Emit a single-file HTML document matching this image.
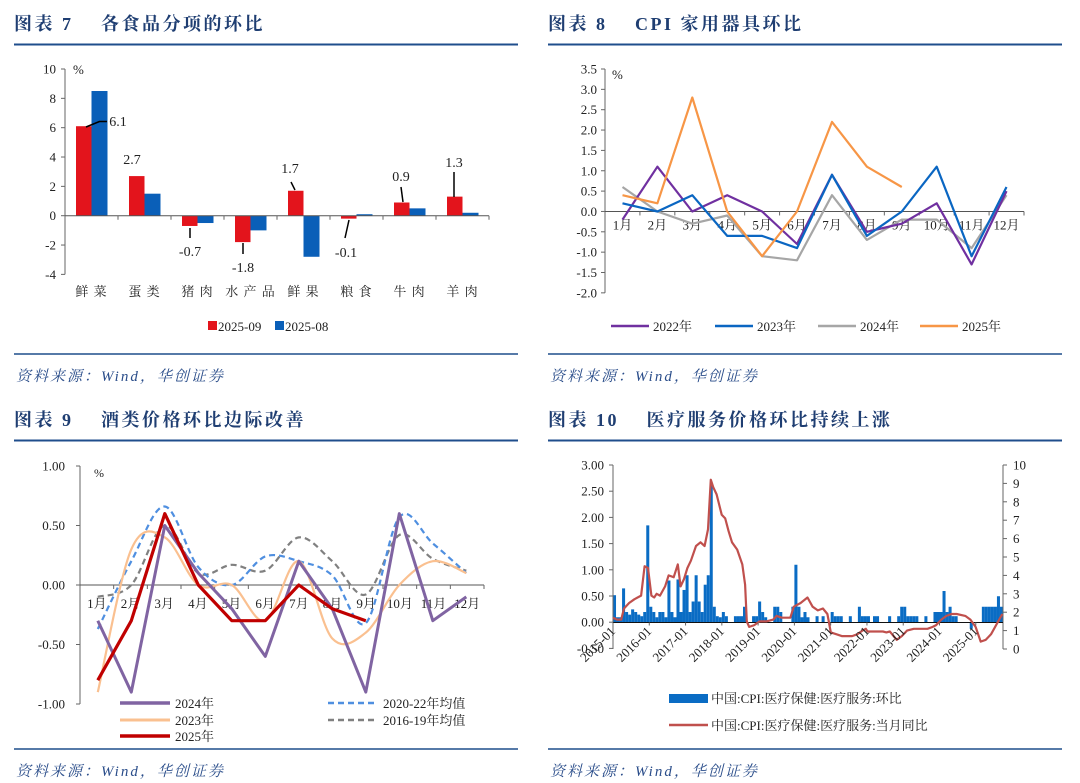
<!DOCTYPE html>
<html><head><meta charset="utf-8">
<style>
html,body{margin:0;padding:0;background:#fff;}
svg{display:block;}
text{font-family:"Liberation Serif","Noto Serif CJK SC",serif;}
.t{font-family:"Liberation Serif","Noto Serif CJK SC",serif;font-weight:bold;font-size:18px;fill:#1f3e72;letter-spacing:2.5px;}
.src{font-family:"Liberation Serif","Noto Serif CJK SC",serif;font-style:italic;font-size:15px;fill:#2a4d8a;letter-spacing:2px;}
.ax{font-size:13px;fill:#222;}
</style></head>
<body>
<svg id="s" width="1080" height="783" viewBox="0 0 1080 783" xmlns="http://www.w3.org/2000/svg">
<text class="t" x="14" y="30">图表 7　 各食品分项的环比</text>
<text class="t" x="548" y="30">图表 8　 CPI 家用器具环比</text>
<text class="t" x="14" y="426">图表 9　 酒类价格环比边际改善</text>
<text class="t" x="548" y="426">图表 10　 医疗服务价格环比持续上涨</text>
<line x1="14" y1="44.5" x2="518" y2="44.5" stroke="#1f4e8c" stroke-width="2"/>
<line x1="548" y1="44.5" x2="1062" y2="44.5" stroke="#1f4e8c" stroke-width="2"/>
<line x1="14" y1="440.5" x2="518" y2="440.5" stroke="#1f4e8c" stroke-width="2"/>
<line x1="548" y1="440.5" x2="1062" y2="440.5" stroke="#1f4e8c" stroke-width="2"/>
<line x1="14" y1="354" x2="518" y2="354" stroke="#1f4e8c" stroke-width="1.5"/>
<line x1="548" y1="354" x2="1062" y2="354" stroke="#1f4e8c" stroke-width="1.5"/>
<line x1="14" y1="749" x2="518" y2="749" stroke="#1f4e8c" stroke-width="1.5"/>
<line x1="548" y1="749" x2="1062" y2="749" stroke="#1f4e8c" stroke-width="1.5"/>
<text class="src" x="16" y="381">资料来源：Wind，华创证券</text>
<text class="src" x="550" y="381">资料来源：Wind，华创证券</text>
<text class="src" x="16" y="776">资料来源：Wind，华创证券</text>
<text class="src" x="550" y="776">资料来源：Wind，华创证券</text>
<g id="g"></g>
</svg>
<script>
var out=[];
function L(x1,y1,x2,y2,c,w,extra){out.push('<line x1="'+x1+'" y1="'+y1+'" x2="'+x2+'" y2="'+y2+'" stroke="'+c+'" stroke-width="'+(w||1)+'" '+(extra||'')+'/>');}
function T(x,y,s,anc,size,extra){out.push('<text x="'+x+'" y="'+y+'" text-anchor="'+(anc||'start')+'" font-size="'+(size||13)+'" fill="#222" '+(extra||'')+'>'+s+'</text>');}
function R(x,y,w,h,c){if(h<0){y+=h;h=-h;}out.push('<rect x="'+x.toFixed(2)+'" y="'+y.toFixed(2)+'" width="'+w.toFixed(2)+'" height="'+h.toFixed(2)+'" fill="'+c+'"/>');}
function P(pts,c,w,extra){out.push('<polyline points="'+pts.map(function(p){return p[0].toFixed(1)+','+p[1].toFixed(1)}).join(' ')+'" fill="none" stroke="'+c+'" stroke-width="'+w+'" stroke-linejoin="round" '+(extra||'')+'/>');}
function S(pts,c,w,extra){var d='M'+pts[0][0]+','+pts[0][1];for(var i=0;i<pts.length-1;i++){var p0=pts[i-1]||pts[i],p1=pts[i],p2=pts[i+1],p3=pts[i+2]||p2;var c1=[p1[0]+(p2[0]-p0[0])/6,p1[1]+(p2[1]-p0[1])/6],c2=[p2[0]-(p3[0]-p1[0])/6,p2[1]-(p3[1]-p1[1])/6];d+=' C'+c1[0].toFixed(1)+','+c1[1].toFixed(1)+' '+c2[0].toFixed(1)+','+c2[1].toFixed(1)+' '+p2[0].toFixed(1)+','+p2[1].toFixed(1);}out.push('<path d="'+d+'" fill="none" stroke="'+c+'" stroke-width="'+w+'" '+(extra||'')+'/>');}
var AX='#666';
// ---------- Chart 7
(function(){
var x0=65,x1=489,ytop=69,ppu=14.67,y0=ytop+10*ppu;
function Y(v){return y0-v*ppu;}
L(x0,Y(10),x0,Y(-4),AX);
for(var v=10;v>=-4;v-=2){L(x0-4,Y(v),x0,Y(v),AX);T(x0-9,Y(v)+4.5,v,'end',13);}
T(73,74,'%','start',13);
var cats=['鲜菜','蛋类','猪肉','水产品','鲜果','粮食','牛肉','羊肉'];
var red=[6.1,2.7,-0.7,-1.8,1.7,-0.2,0.9,1.3],blue=[8.5,1.5,-0.5,-1.0,-2.8,0.1,0.5,0.2];
var cw=(x1-x0)/8;
for(var i=0;i<8;i++){var c=x0+cw*(i+0.5);
R(c-15.5,y0,15.5,-red[i]*ppu,'#e3141c');R(c,y0,16,-blue[i]*ppu,'#0a5fb8');
T(c,296,cats[i].split('').join(' '),'middle',13,'letter-spacing="1"');}
L(x0,y0,x1,y0,'#555');
for(var i=1;i<=8;i++)L(x0+cw*i,y0,x0+cw*i,y0+4,AX);
var labs=[[118,126,'6.1'],[132,164,'2.7'],[190,256,'-0.7'],[243,272,'-1.8'],[290,173,'1.7'],[346,257,'-0.1'],[401,181,'0.9'],[454,167,'1.3']];
labs.forEach(function(l){T(l[0],l[1],l[2],'middle',14);});
P([[86,127],[99.5,121.5],[107,121.5]],'#000',1.5);
L(190,228,190,238,'#000',1.5);L(243,243,243,254,'#000',1.5);
L(291,182,295,190,'#000',1.5);L(349,220,345,238,'#000',1.5);
L(401,187,403,202,'#000',1.5);L(454,172,454,197,'#000',1.5);
R(208,321,9,9,'#e3141c');T(218,331,'2025-09','start',13);
R(275,321,9,9,'#0a5fb8');T(285,331,'2025-08','start',13);
})();
// ---------- Chart 8
(function(){
var x0=605,x1=1024,ytop=69,ppu=40.7,y0=ytop+3.5*ppu;
function Y(v){return y0-v*ppu;}
L(x0,Y(3.5),x0,Y(-2),AX);
for(var k=0;k<=11;k++){var v=3.5-k*0.5;L(x0-4,Y(v),x0,Y(v),AX);T(x0-8,Y(v)+4.5,v.toFixed(1),'end',13);}
T(612,79,'%','start',13);
L(x0,y0,x1,y0,'#555');
var cw=(x1-x0)/12;
for(var i=1;i<=12;i++)L(x0+cw*i,y0,x0+cw*i,y0+4,AX);
for(var i=0;i<12;i++)T(x0+cw*(i+0.5),y0+18,(i+1)+'月','middle',13);
function X(i){return x0+cw*(i+0.5);}
function ser(a,c){P(a.map(function(v,i){return [X(i),Y(v)]}),c,2.2);}
ser([0.6,0,-0.3,-0.1,-1.1,-1.2,0.4,-0.7,-0.2,-0.2,-0.9,0.4],'#a6a6a6');
ser([-0.2,1.1,0,0.4,0,-0.8,0.9,-0.5,-0.3,0.2,-1.3,0.5],'#7030a0');
ser([0.2,0,0.4,-0.6,-0.6,-0.9,0.9,-0.6,0,1.1,-1.1,0.6],'#0a66c2');
ser([0.4,0.2,2.8,0,-1.1,0,2.2,1.1,0.6],'#f79646');
var lg=[[611,'2022年','#7030a0'],[715,'2023年','#0a66c2'],[818,'2024年','#a6a6a6'],[920,'2025年','#f79646']];
lg.forEach(function(l){L(l[0],326,l[0]+38,326,l[2],2.5);T(l[0]+42,331,l[1],'start',13);});
})();
// ---------- Chart 9
(function(){
var x0=80,x1=484,ytop=466,ppu=119,y0=ytop+ppu;
function Y(v){return y0-v*ppu;}
L(x0,Y(1),x0,Y(-1),AX);
[1,0.5,0,-0.5,-1].forEach(function(v){L(x0-4,Y(v),x0,Y(v),AX);T(x0-15,Y(v)+4.5,v.toFixed(2),'end',13);});
T(94,477,'%','start',12);
L(x0,y0,x1,y0,'#555');
var cw=(x1-x0)/12;
for(var i=1;i<=12;i++)L(x0+cw*i,y0,x0+cw*i,y0+4,AX);
for(var i=0;i<12;i++)T(x0+cw*(i+0.5),y0+23,(i+1)+'月','middle',13);
function X(i){return 97.8+33.5*i;}
function pts(a){return a.map(function(v,i){return [X(i),Y(v)]});}
S(pts([-0.1,0,0.5,0.1,0.17,0.12,0.4,0.2,-0.08,0.42,0.22,0.12]),'#808080',2.2,'stroke-dasharray="6,4"');
S(pts([-0.37,0.2,0.66,0.15,0,0.24,0.2,0.08,-0.32,0.57,0.35,0.1]),'#4f8fe0',2.2,'stroke-dasharray="6,4"');
S(pts([-0.9,0.3,0.4,0,0,-0.3,0.2,-0.45,-0.4,0,0.2,0.1]),'#fac090',2.2);
P(pts([-0.3,-0.9,0.5,0.1,-0.2,-0.6,0.2,-0.2,-0.9,0.6,-0.3,-0.1]),'#8064a2',3);
P(pts([-0.8,-0.3,0.6,0,-0.3,-0.3,0,-0.2,-0.3]),'#c00000',3.2);
L(120,703,170,703,'#8064a2',3.5);T(175,708,'2024年','start',13);
L(120,720,170,720,'#fac090',3);T(175,725,'2023年','start',13);
L(120,736,170,736,'#c00000',3.5);T(175,741,'2025年','start',13);
L(328,703,377,703,'#4f8fe0',2.5,'stroke-dasharray="6,4"');T(383,708,'2020-22年均值','start',13);
L(328,720,377,720,'#808080',2.5,'stroke-dasharray="6,4"');T(383,725,'2016-19年均值','start',13);
})();
// ---------- Chart 10
(function(){
var x0=613,x1=1003,yl0=622.5,lppu=52.5,yr0=649,rppu=18.4;
function YL(v){return yl0-v*lppu;}function YR(v){return yr0-v*rppu;}
var mw=(x1-x0)/129;
var b={0:0.52,1:0.1,2:0.1,3:0.65,4:0.2,5:0.15,6:0.25,7:0.2,8:0.15,9:0.12,10:0.2,11:1.85,12:0.3,13:0.2,14:0.1,15:0.2,16:0.2,17:0.1,18:0.8,19:0.2,20:0.1,21:0.82,22:0.2,23:0.62,24:0.9,25:0.2,26:0.4,27:0.9,28:0.4,29:0.2,30:0.72,31:0.9,32:2.6,33:0.3,34:0.12,35:0.1,36:0.2,37:0.12,40:0.12,41:0.12,42:0.12,43:0.3,46:0.12,47:0.12,48:0.4,49:0.2,50:0.1,53:0.3,54:0.3,55:0.2,59:0.3,60:1.1,61:0.3,62:0.1,63:0.2,64:0.1,67:0.12,69:0.12,72:0.2,73:0.12,74:0.12,75:0.12,78:0.12,81:0.3,82:0.12,83:0.12,84:0.12,86:0.12,87:0.12,91:0.12,94:0.12,95:0.3,96:0.3,97:0.12,98:0.12,99:0.12,100:0.12,103:0.12,106:0.2,107:0.2,108:0.2,109:0.6,110:0.2,111:0.3,112:0.12,113:0.12,118:-0.12,122:0.3,123:0.3,124:0.3,125:0.3,126:0.3,127:0.5,128:0.3};
for(var k in b){R(x0+k*mw,yl0,mw,-b[k]*lppu,'#0a6cc4');}
L(x0,465,x0,649,AX);
for(var i=0;i<=7;i++){var v=3-i*0.5,y=465+i*26.2;L(x0-4,y,x0,y,AX);T(x0-9,y+4.5,v.toFixed(2),'end',13);}
L(x1,465,x1,649,AX);
for(var v=0;v<=10;v++){L(x1,YR(v),x1+4,YR(v),AX);T(x1+10,YR(v)+4.5,v,'start',13);}
L(x0,yl0,x1,yl0,'#111',1);
var ln=[[213,1.7],[225,1.6],[237,1.6],[245,2.2],[260,2.5],[275,2.7],[295,2.9],[305,4.5],[315,4.4],[325,2.9],[333,2.8],[340,3.0],[350,2.9],[365,3.4],[375,4.0],[390,3.9],[402,4.6],[410,3.4],[420,3.8],[430,4.4],[440,4.8],[455,5.6],[468,5.8],[480,5.6],[490,6.5],[498,9.2],[505,8.8],[515,8.4],[530,7.3],[540,7.1],[550,6.4],[560,5.8],[575,5.4],[590,4.6],[598,3.5],[603,1.5],[610,1.2],[625,1.3],[640,1.5],[660,1.5],[680,1.6],[690,1.8],[705,1.7],[730,1.7],[740,2.3],[760,2.5],[780,2.8],[795,2.3],[810,2.1],[825,2.2],[838,1.9],[848,0.9],[865,0.8],[880,0.7],[895,0.7],[910,0.7],[925,0.8],[940,1.0],[950,1.1],[955,0.95],[975,0.95],[1000,0.95],[1010,0.9],[1020,0.95],[1040,0.5],[1055,0.7],[1070,1.0],[1090,1.1],[1110,1.1],[1130,1.1],[1145,1.2],[1155,1.3],[1170,1.6],[1185,1.8],[1200,1.9],[1215,1.9],[1240,1.8],[1255,1.6],[1270,1.2],[1285,0.4],[1300,0.5],[1315,0.8],[1330,1.3],[1348,1.9]];
P(ln.map(function(p){return [x0+(p[0]-213)*0.343,YR(p[1])];}),'#c0504d',2.2);
for(var k=0;k<=10;k++){var x=x0+12*k*mw;L(x,yl0,x,yl0+3,AX);out.push('<text x="'+(x+3)+'" y="632" text-anchor="end" font-size="13" fill="#222" transform="rotate(-45 '+(x+3)+' 632)">'+(2015+k)+'-01</text>');}
R(669,694,39,9,'#0a6cc4');T(711,703,'中国:CPI:医疗保健:医疗服务:环比','start',13);
L(669,725,708,725,'#c0504d',2.5);T(711,730,'中国:CPI:医疗保健:医疗服务:当月同比','start',13);
})();
document.getElementById('g').innerHTML=out.join('');
</script>
</body></html>
